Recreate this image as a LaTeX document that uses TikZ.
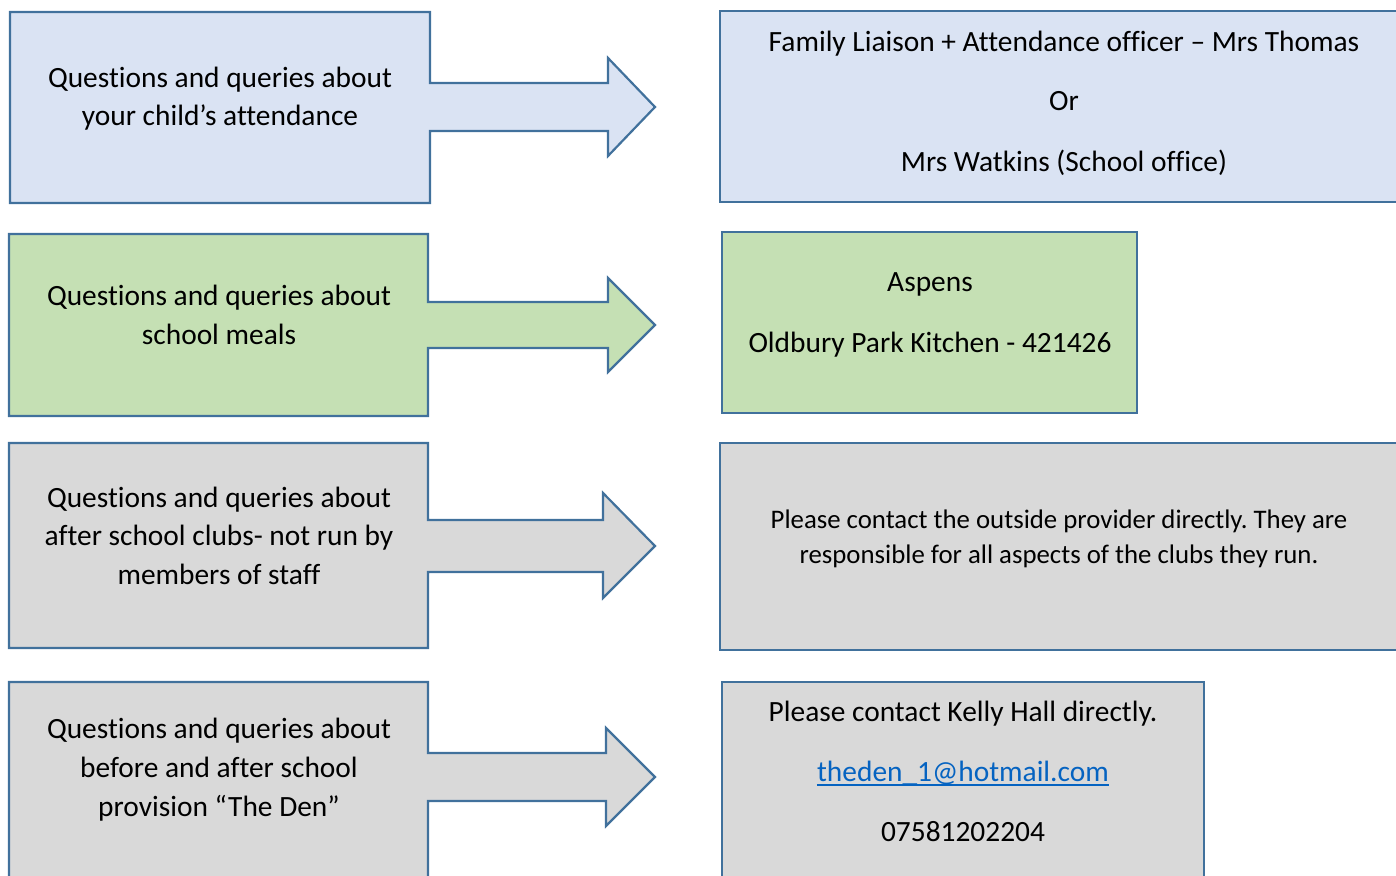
\documentclass[tikz,border=0pt]{standalone}
\usepackage{fontspec}
\setmainfont{Carlito}[Ligatures=NoCommon]
\frenchspacing
\definecolor{edge}{HTML}{41719C}
\definecolor{fblue}{HTML}{DAE3F3}
\definecolor{fgreen}{HTML}{C5E0B4}
\definecolor{fgray}{HTML}{D9D9D9}
\definecolor{linkc}{HTML}{0563C1}
\begin{document}
\begin{tikzpicture}[x=1pt,y=-1pt,
  shapeline/.style={draw=edge,line width=2.2pt,line join=miter},
  txt/.style={anchor=base,inner sep=0pt,font=\fontsize{29.4}{34}\selectfont},
  smalltxt/.style={anchor=base,inner sep=0pt,font=\fontsize{26.8}{31}\selectfont}]
\useasboundingbox (0,0) rectangle (1396,875);
% row 1
\draw[shapeline,fill=fblue] (10,12) -- (430,12) -- (430,83) -- (608,83) -- (608,58) -- (655,107) -- (608,156) -- (608,131) -- (430,131) -- (430,203) -- (10,203) -- cycle;
\node[txt] (q1a) at (220,87) {Questions and queries about};
\node[txt] (q1b) at (220,125) {your child’s attendance};
\draw[shapeline,fill=fblue] (720,11) rectangle (1402,202);
\node[txt] (a1a) at (1064,51.5) {Family Liaison + Attendance officer – Mrs Thomas};
\node[txt] (a1b) at (1064,110) {Or};
\node[txt] (a1c) at (1064,171) {Mrs Watkins (School office)};
% row 2
\draw[shapeline,fill=fgreen] (9,234) -- (428,234) -- (428,302) -- (608,302) -- (608,278) -- (655,325) -- (608,372) -- (608,348) -- (428,348) -- (428,416) -- (9,416) -- cycle;
\node[txt] (q2a) at (219,305) {Questions and queries about};
\node[txt] (q2b) at (219,344) {school meals};
\draw[shapeline,fill=fgreen] (722,232) rectangle (1137,413);
\node[txt] (a2a) at (930,291) {Aspens};
\node[txt] (a2b) at (930,352) {Oldbury Park Kitchen - 421426};
% row 3
\draw[shapeline,fill=fgray] (9,443) -- (428,443) -- (428,520) -- (603,520) -- (603,493) -- (655,546) -- (603,598) -- (603,572) -- (428,572) -- (428,648) -- (9,648) -- cycle;
\node[txt] (q3a) at (219,507) {Questions and queries about};
\node[txt] (q3b) at (219,545) {after school clubs- not run by};
\node[txt] (q3c) at (219,584) {members of staff};
\draw[shapeline,fill=fgray] (720,443) rectangle (1402,650);
\node[smalltxt] (a3a) at (1059,528) {Please contact the outside provider directly. They are};
\node[smalltxt] (a3b) at (1059,563) {responsible for all aspects of the clubs they run.};
% row 4
\draw[shapeline,fill=fgray] (9,682) -- (428,682) -- (428,753) -- (606,753) -- (606,728) -- (655,777) -- (606,826) -- (606,801) -- (428,801) -- (428,882) -- (9,882) -- cycle;
\node[txt] (q4a) at (219,738) {Questions and queries about};
\node[txt] (q4b) at (219,777) {before and after school};
\node[txt] (q4c) at (219,816) {provision “The Den”};
\draw[shapeline,fill=fgray] (722,682) rectangle (1204,882);
\node[txt] (a4a) at (963,721) {Please contact Kelly Hall directly.};
\node[txt,text=linkc] (a4b) at (963,781) {theden\_1@hotmail.com};
\draw[linkc,line width=1.6pt] ([yshift=-4pt]a4b.base west) -- ([yshift=-4pt]a4b.base east);
\node[txt] (a4c) at (963,841) {07581202204};
\end{tikzpicture}
\end{document}
